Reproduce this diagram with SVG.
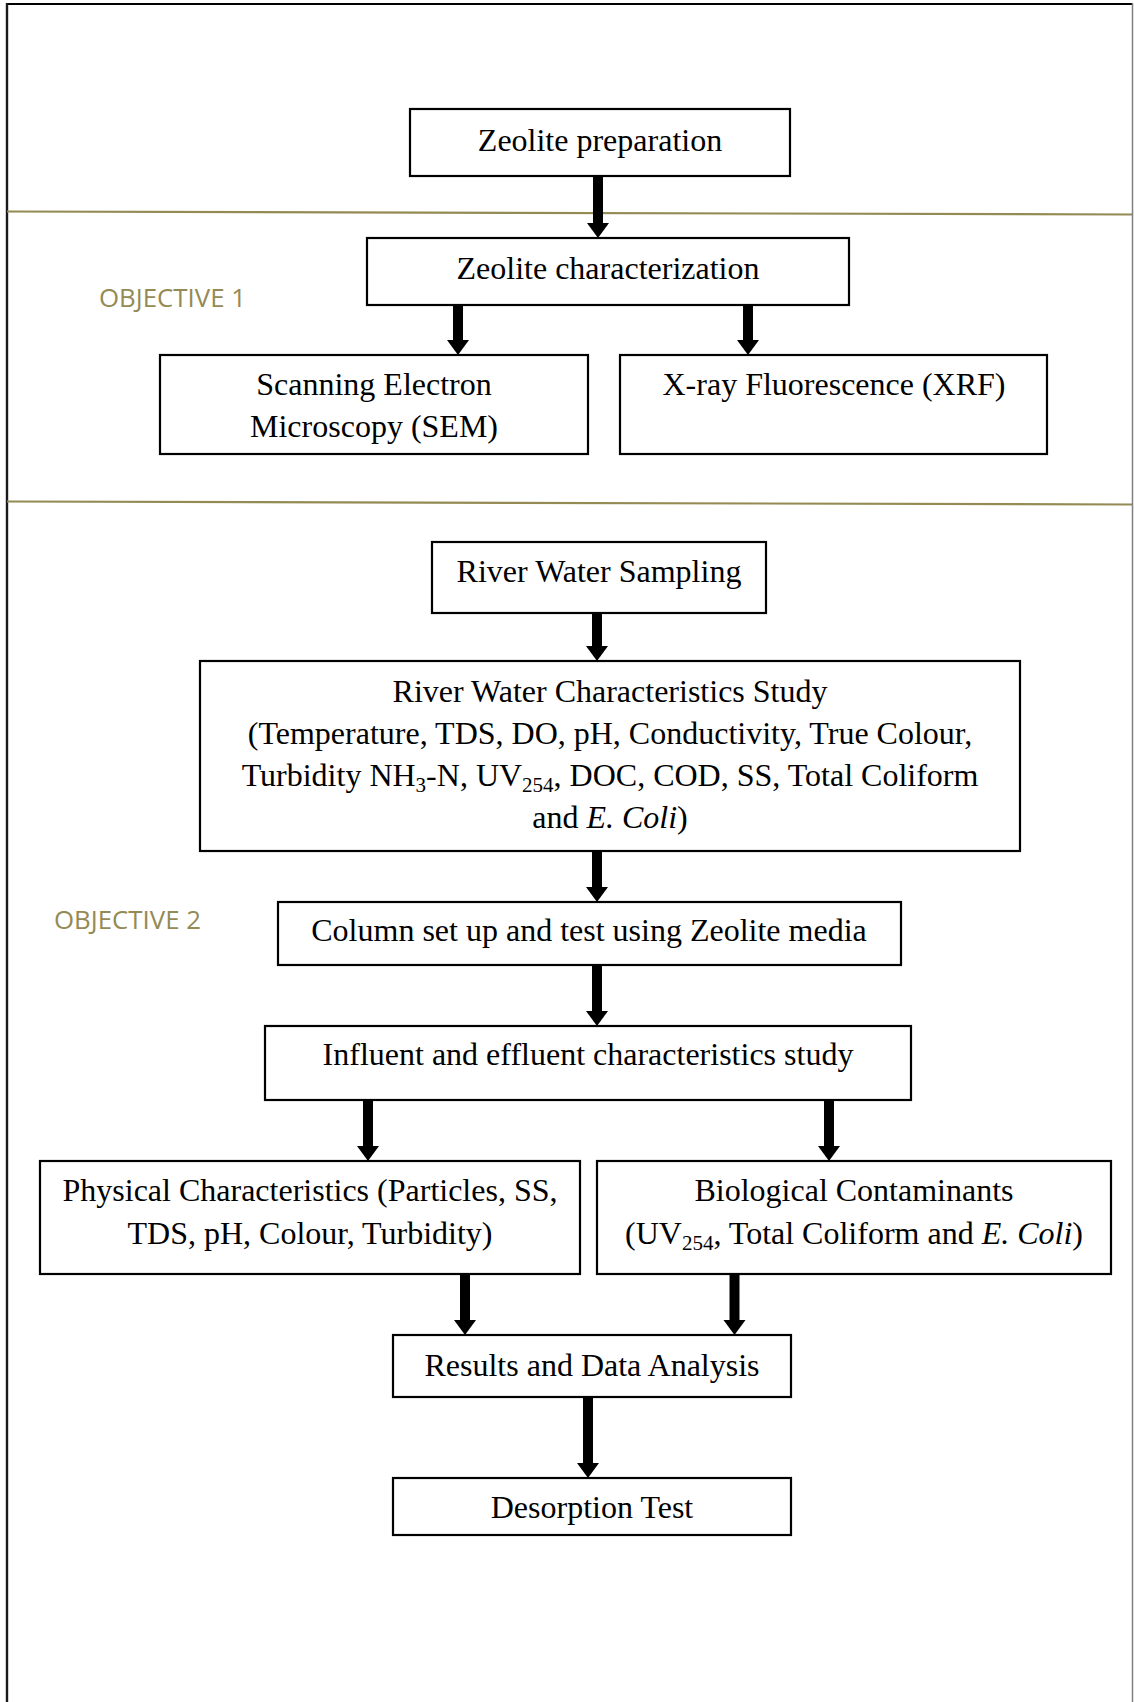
<svg xmlns="http://www.w3.org/2000/svg" width="1134" height="1702" viewBox="0 0 1134 1702">
<style>
.box{fill:#fff;stroke:#000;stroke-width:2.2}
.t{font-family:"Liberation Serif","Times New Roman",serif;font-size:32px;fill:#000;text-anchor:middle}
.obj{font-family:"Open Sans","Liberation Sans",sans-serif;font-size:25.5px;fill:#948a54}
.sep{stroke:#948a54;stroke-width:2.2;fill:none}
.arr{stroke:#000;stroke-width:10;fill:none;marker-end:url(#head)}
.sub{font-size:21px}
.it{font-style:italic}
</style>
<defs>
<marker id="head" markerUnits="userSpaceOnUse" markerWidth="16" markerHeight="22" refX="0" refY="11" orient="auto" overflow="visible">
<path d="M0,0 L15,11 L0,22 Z" fill="#000"/>
</marker>
</defs>
<rect width="1134" height="1702" fill="#fff"/>
<g id="frame">
<line x1="7" y1="4" x2="1133" y2="4" stroke="#000" stroke-width="2.2"/>
<line x1="7" y1="3" x2="7" y2="1702" stroke="#1a1a1a" stroke-width="2.4"/>
<line x1="1132.5" y1="3" x2="1132.5" y2="1702" stroke="#808080" stroke-width="1.5"/>
<line class="sep" x1="7" y1="211.5" x2="1132" y2="214.5"/>
<line class="sep" x1="7" y1="501.5" x2="1132" y2="504.5"/>
</g>
<g id="labels">
<text class="obj" x="99" y="307" textLength="147" lengthAdjust="spacingAndGlyphs">OBJECTIVE 1</text>
<text class="obj" x="54" y="929" textLength="147" lengthAdjust="spacingAndGlyphs">OBJECTIVE 2</text>
</g>
<g id="connectors">
<line class="arr" x1="598" y1="176" x2="598" y2="223"/>
<line class="arr" x1="458" y1="305" x2="458" y2="340"/>
<line class="arr" x1="748" y1="305" x2="748" y2="340"/>
<line class="arr" x1="597" y1="613" x2="597" y2="646"/>
<line class="arr" x1="597" y1="851" x2="597" y2="887"/>
<line class="arr" x1="597" y1="965" x2="597" y2="1011"/>
<line class="arr" x1="368" y1="1100" x2="368" y2="1146"/>
<line class="arr" x1="829" y1="1100" x2="829" y2="1146"/>
<line class="arr" x1="465" y1="1274" x2="465" y2="1320"/>
<line class="arr" x1="734.5" y1="1274" x2="734.5" y2="1320"/>
<line class="arr" x1="588" y1="1397" x2="588" y2="1463"/>
</g>
<g id="zeolite-preparation">
<rect class="box" x="410" y="109" width="380" height="67"/>
<text class="t" x="600" y="151">Zeolite preparation</text>
</g>
<g id="zeolite-characterization">
<rect class="box" x="367" y="238" width="482" height="67"/>
<text class="t" x="608" y="279">Zeolite characterization</text>
</g>
<g id="sem">
<rect class="box" x="160" y="355" width="428" height="99"/>
<text class="t" x="374" y="395">Scanning Electron</text>
<text class="t" x="374" y="437">Microscopy (SEM)</text>
</g>
<g id="xrf">
<rect class="box" x="620" y="355" width="427" height="99"/>
<text class="t" x="834" y="395">X-ray Fluorescence (XRF)</text>
</g>
<g id="river-water-sampling">
<rect class="box" x="432" y="542" width="334" height="71"/>
<text class="t" x="599" y="582">River Water Sampling</text>
</g>
<g id="river-water-characteristics">
<rect class="box" x="200" y="661" width="820" height="190"/>
<text class="t" x="610" y="702">River Water Characteristics Study</text>
<text class="t" x="610" y="744">(Temperature, TDS, DO, pH, Conductivity, True Colour,</text>
<text class="t" x="610" y="786">Turbidity NH<tspan class="sub" dy="6">3</tspan><tspan dy="-6">-N, UV</tspan><tspan class="sub" dy="6">254</tspan><tspan dy="-6">, DOC, COD, SS, Total Coliform</tspan></text>
<text class="t" x="610" y="828">and <tspan class="it">E. Coli</tspan>)</text>
</g>
<g id="column-setup">
<rect class="box" x="278" y="902" width="623" height="63"/>
<text class="t" x="589" y="941">Column set up and test using Zeolite media</text>
</g>
<g id="influent-effluent">
<rect class="box" x="265" y="1026" width="646" height="74"/>
<text class="t" x="588" y="1065">Influent and effluent characteristics study</text>
</g>
<g id="physical">
<rect class="box" x="40" y="1161" width="540" height="113"/>
<text class="t" x="310" y="1201">Physical Characteristics (Particles, SS,</text>
<text class="t" x="310" y="1244">TDS, pH, Colour, Turbidity)</text>
</g>
<g id="biological">
<rect class="box" x="597" y="1161" width="514" height="113"/>
<text class="t" x="854" y="1201">Biological Contaminants</text>
<text class="t" x="854" y="1244">(UV<tspan class="sub" dy="6">254</tspan><tspan dy="-6">, Total Coliform and </tspan><tspan class="it">E. Coli</tspan>)</text>
</g>
<g id="results">
<rect class="box" x="393" y="1335" width="398" height="62"/>
<text class="t" x="592" y="1376">Results and Data Analysis</text>
</g>
<g id="desorption">
<rect class="box" x="393" y="1478" width="398" height="57"/>
<text class="t" x="592" y="1518">Desorption Test</text>
</g>
</svg>
